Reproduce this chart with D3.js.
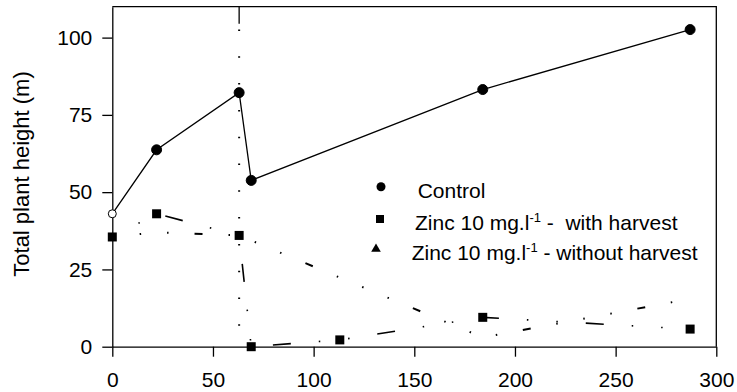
<!DOCTYPE html>
<html>
<head>
<meta charset="utf-8">
<script src="https://cdn.jsdelivr.net/npm/d3@7"></script>
<style>
  body { margin: 0; background: #fff; }
  text { font-family: "Liberation Sans", Arial, sans-serif; fill: #000; }
</style>
</head>
<body>
<svg width="737" height="392"></svg>
<script>
// data
const controlDays = [0, 22, 63, 69, 184, 287];
const controlHeight = [43, 63.7, 82.2, 53.8, 83.2, 102.6];

const harvestDays = [0, 22, 63, 69, 113, 184, 287];
const harvestHeight = [35.5, 43, 36, 0, 2.2, 9.5, 5.7];

const noHarvestDays = [0, 22, 63, 184, 287];
const noHarvestHeight = [35.5, 37, 36, 3, 15.5];

const harvestDay = 63;

const xTicks = [0, 50, 100, 150, 200, 250, 300];
const yTicks = [0, 25, 50, 75, 100];

const legendLabels = ["Control", "Zinc 10 mg.l", "Zinc 10 mg.l"];

const svg = d3.select("svg");

const x = d3.scaleLinear().domain([0, 300]).range([112.3, 716.3]);
const y = d3.scaleLinear().domain([0, 110]).range([346.7, 6.7]);

const fontSize = 21;

// frame (top and right)
svg.append("path")
    .attr("d", `M${x(0)},${y(110)}H${x(300)}V${y(0)}`)
    .attr("fill", "none")
    .attr("stroke", "#000")
    .attr("stroke-width", 1.3);

// axes
const yAxis = svg.append("g")
    .attr("transform", `translate(${x(0)},0)`)
    .call(d3.axisLeft(y).tickValues(yTicks).tickSize(10).tickSizeOuter(0).tickPadding(10));
const xAxis = svg.append("g")
    .attr("transform", `translate(0,${y(0)})`)
    .call(d3.axisBottom(x).tickValues(xTicks).tickSize(10).tickSizeOuter(0).tickPadding(15));
[xAxis, yAxis].forEach(a => {
    a.selectAll("path, line").attr("stroke", "#000").attr("stroke-width", 1.3);
    a.selectAll("text").style("font-size", fontSize + "px").attr("font-family", null);
});

// y axis title
svg.append("text")
    .attr("transform", "translate(29,174) rotate(-90)")
    .attr("text-anchor", "middle")
    .style("font-size", "22px")
    .text("Total plant height (m)");

// harvest day marker: short solid piece at the top, then dotted
svg.append("line")
    .attr("x1", x(harvestDay)).attr("x2", x(harvestDay))
    .attr("y1", y(110)).attr("y2", y(110) + 17)
    .attr("stroke", "#000").attr("stroke-width", 1.3);
svg.append("line")
    .attr("x1", x(harvestDay)).attr("x2", x(harvestDay))
    .attr("y1", 29.5).attr("y2", y(0))
    .attr("stroke", "#000").attr("stroke-width", 2)
    .attr("stroke-dasharray", "1.5,25.3");

const line = d3.line().x(d => x(d[0])).y(d => y(d[1]));

const control = controlDays.map((d, i) => [d, controlHeight[i]]);
const harvest = harvestDays.map((d, i) => [d, harvestHeight[i]]);
const noHarvest = noHarvestDays.map((d, i) => [d, noHarvestHeight[i]]);

// without harvest: sparse dotted line, no visible markers
svg.append("path")
    .attr("d", line(noHarvest))
    .attr("fill", "none")
    .attr("stroke", "#000")
    .attr("stroke-width", 2)
    .attr("stroke-dasharray", "1.5,26,1.5,26,1.5,26,8,26");

// with harvest: sparse dash-dot line
svg.append("path")
    .attr("d", line(harvest))
    .attr("fill", "none")
    .attr("stroke", "#000")
    .attr("stroke-width", 1.6)
    .attr("stroke-dasharray", "1.5,28,1.5,28,18,28");

svg.selectAll(".sq")
    .data(harvest)
    .join("rect")
    .attr("x", d => x(d[0]) - 4.5)
    .attr("y", d => y(d[1]) - 4.5)
    .attr("width", 9)
    .attr("height", 9)
    .attr("fill", "#000");

// control
svg.append("path")
    .attr("d", line(control))
    .attr("fill", "none")
    .attr("stroke", "#000")
    .attr("stroke-width", 1.3);

svg.selectAll(".dot")
    .data(control)
    .join("circle")
    .attr("cx", d => x(d[0]))
    .attr("cy", d => y(d[1]))
    .attr("r", (d, i) => i === 0 ? 4 : 5)
    .attr("fill", (d, i) => i === 0 ? "#fff" : "#000")
    .attr("stroke", "#000")
    .attr("stroke-width", 1);

// legend
const lg = svg.append("g");
lg.append("circle").attr("cx", 381).attr("cy", 186.7).attr("r", 4.5).attr("fill", "#000");
lg.append("rect").attr("x", 376).attr("y", 215).attr("width", 8).attr("height", 8).attr("fill", "#000");
lg.append("path").attr("d", d3.symbol(d3.symbolTriangle, 40)()).attr("transform", "translate(376,249)").attr("fill", "#000");

lg.append("text").attr("x", 417.7).attr("y", 197.5).style("font-size", fontSize + "px").text(legendLabels[0]);

const t1 = lg.append("text").attr("x", 415).attr("y", 229.5).style("font-size", fontSize + "px").style("white-space", "pre");
t1.append("tspan").text(legendLabels[1]);
t1.append("tspan").attr("dy", -8).style("font-size", "13px").text("-1");
t1.append("tspan").attr("dy", 8).text(" -  with harvest");

const t2 = lg.append("text").attr("x", 411.7).attr("y", 259.5).style("font-size", fontSize + "px").style("white-space", "pre");
t2.append("tspan").text(legendLabels[2]);
t2.append("tspan").attr("dy", -8).style("font-size", "13px").text("-1");
t2.append("tspan").attr("dy", 8).text(" - without harvest");
</script>
</body>
</html>
